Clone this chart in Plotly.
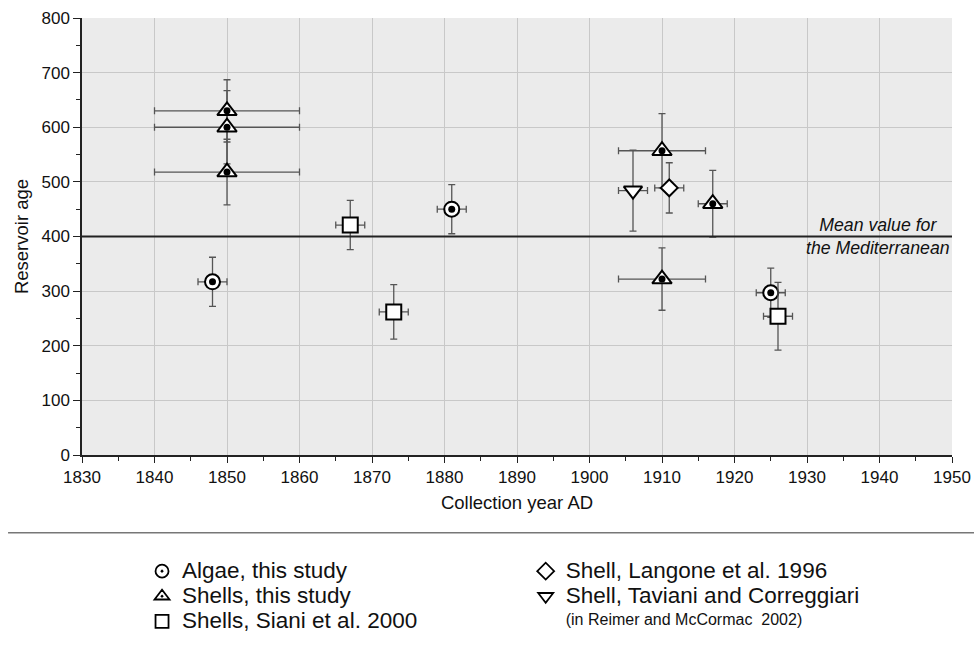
import plotly.graph_objects as go

# ---- data ----
algae_year = [1848, 1881, 1925]
algae_age = [317, 450, 297]
algae_age_err = [45, 45, 45]
algae_year_err = [2, 2, 2]

shells_year = [1850, 1850, 1850, 1910, 1910, 1917]
shells_age = [630, 600, 518, 557, 322, 460]
shells_age_err = [57, 67, 60, 68, 57, 61]
shells_year_err = [10, 10, 10, 6, 6, 2]

siani_year = [1867, 1873, 1926]
siani_age = [421, 262, 254]
siani_age_err = [45, 50, 62]
siani_year_err = [2, 2, 2]

langone_year = [1911]
langone_age = [489]
langone_age_err = [46]
langone_year_err = [2]

taviani_year = [1906]
taviani_age = [484]
taviani_age_err = [74]
taviani_year_err = [2]

mean_age = 400
mean_label = "Mean value for<br>the Mediterranean"

x_label = "Collection year AD"
y_label = "Reservoir age"

LEG_SPAN = "<span style='font-size:22.5px'>{}</span>"
legend_names = {
    "algae": LEG_SPAN.format("Algae, this study"),
    "shells": LEG_SPAN.format("Shells, this study"),
    "siani": LEG_SPAN.format("Shells, Siani et al. 2000"),
    "langone": LEG_SPAN.format("Shell, Langone et al. 1996"),
    "taviani": LEG_SPAN.format("Shell, Taviani and Correggiari")
               + "<br><span style='font-size:16px'>(in Reimer and McCormac  2002)</span>",
}

FONT = "Liberation Sans, Arial, sans-serif"
ERR_COLOR = "#555555"

fig = go.Figure()


def err(vals):
    return dict(type="data", array=vals, visible=True, color=ERR_COLOR, thickness=1.3, width=3.5)


def add_series(x, y, ex, ey, symbol, size, dot):
    fig.add_trace(go.Scatter(
        x=x, y=y, mode="markers", showlegend=False, hoverinfo="x+y",
        error_x=err(ex), error_y=err(ey),
        marker=dict(symbol=symbol, size=size, color="white", line=dict(color="black", width=2)),
    ))
    if dot:
        fig.add_trace(go.Scatter(
            x=x, y=y, mode="markers", showlegend=False, hoverinfo="skip",
            marker=dict(symbol="circle", size=7, color="black", line=dict(width=0)),
        ))


add_series(algae_year, algae_age, algae_year_err, algae_age_err, "circle", 15, True)
add_series(shells_year, shells_age, shells_year_err, shells_age_err, "triangle-up", 17, True)
add_series(siani_year, siani_age, siani_year_err, siani_age_err, "square", 15, False)
add_series(langone_year, langone_age, langone_year_err, langone_age_err, "diamond", 13, False)
add_series(taviani_year, taviani_age, taviani_year_err, taviani_age_err, "triangle-down", 16, False)


def leg(name, symbol, legend):
    fig.add_trace(go.Scatter(
        x=[None], y=[None], mode="markers", name=name, legend=legend,
        marker=dict(symbol=symbol, size=13, color="white", line=dict(color="black", width=1.8)),
    ))


leg(legend_names["algae"], "circle-dot", "legend")
leg(legend_names["shells"], "triangle-up-dot", "legend")
leg(legend_names["siani"], "square", "legend")
leg(legend_names["langone"], "diamond", "legend2")
leg(legend_names["taviani"], "triangle-down", "legend2")

fig.add_shape(type="line", xref="paper", yref="y", x0=0, x1=1, y0=mean_age, y1=mean_age,
              line=dict(color="#222222", width=2))
fig.add_annotation(x=0.915, xref="paper", y=mean_age, yref="y", text="<i>" + mean_label + "</i>",
                   showarrow=False, xanchor="center", yanchor="middle", align="center",
                   font=dict(family=FONT, size=17.7, color="#111"))

fig.add_shape(type="line", xref="paper", yref="paper", x0=-0.085, x1=1.03, y0=-0.178, y1=-0.178,
              line=dict(color="#777777", width=1.5))

legend_common = dict(orientation="v", xanchor="left", yanchor="top", bgcolor="rgba(0,0,0,0)",
                     font=dict(family=FONT, size=17, color="#111"), tracegroupgap=0,
                     itemclick=False, valign="top")

fig.update_layout(
    width=974, height=651,
    margin=dict(l=82, r=22, t=18, b=183),
    paper_bgcolor="white", plot_bgcolor="#ebebeb",
    font=dict(family=FONT, size=15, color="#111"),
    legend=dict(x=0.069, y=-0.2256, **legend_common),
    legend2=dict(x=0.51, y=-0.2256, **legend_common),
    xaxis=dict(range=[1830, 1950], dtick=10, tick0=1830, showgrid=True, gridcolor="#c8c8c8",
               gridwidth=1, showline=True, linecolor="#222", linewidth=1.5, ticks="outside",
               ticklen=6, tickcolor="#222", zeroline=False, automargin=False,
               minor=dict(dtick=5, ticks="outside", ticklen=4, tickcolor="#222", showgrid=False),
               title=dict(text=x_label, font=dict(family=FONT, size=18.5), standoff=10),
               tickfont=dict(family=FONT, size=17)),
    yaxis=dict(range=[0, 800], dtick=100, showgrid=True, gridcolor="#c8c8c8", gridwidth=1,
               showline=True, linecolor="#222", linewidth=1.5, ticks="outside", ticklen=7,
               tickcolor="#222", zeroline=False, automargin=False,
               minor=dict(dtick=50, ticks="outside", ticklen=4, tickcolor="#222", showgrid=False),
               title=dict(text=y_label, font=dict(family=FONT, size=18.5), standoff=8),
               tickfont=dict(family=FONT, size=17)),
)

fig.write_html("out.html", config={"displayModeBar": False},
               post_script="document.body.style.margin='0';document.body.style.overflow='hidden';")
